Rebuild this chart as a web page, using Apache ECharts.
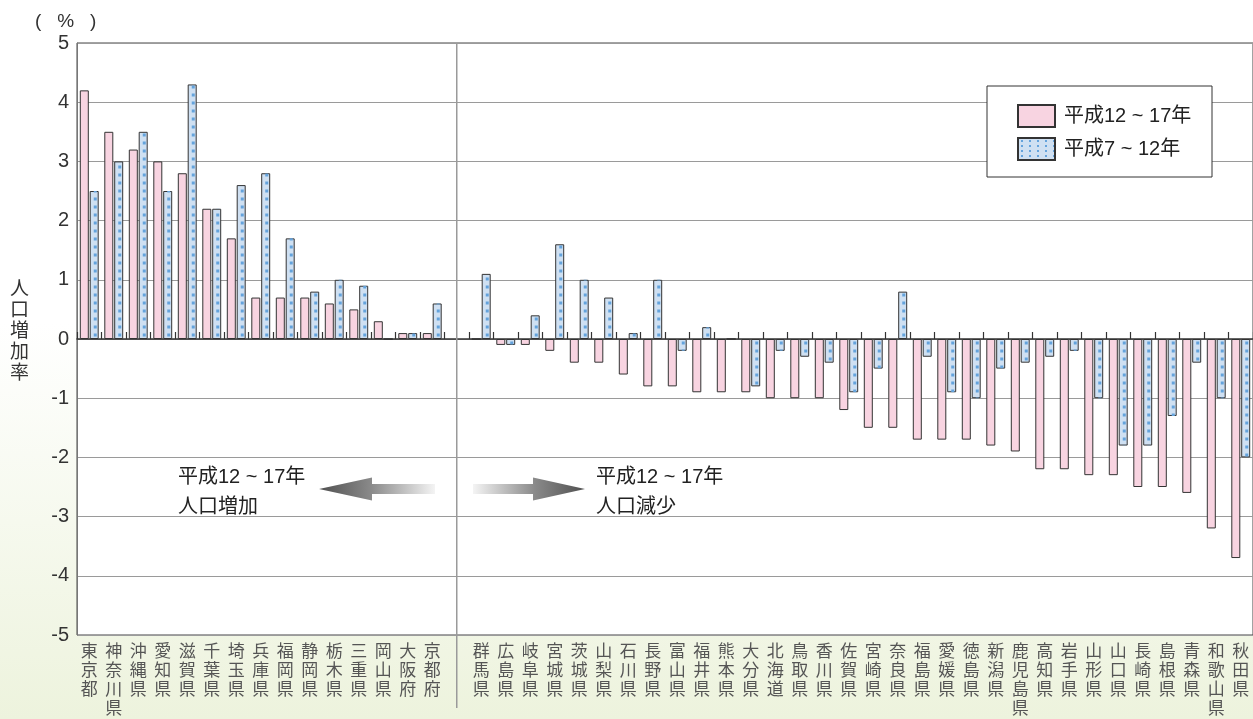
<!DOCTYPE html>
<html>
<head>
<meta charset="utf-8">
<script src="https://cdn.jsdelivr.net/npm/echarts@6/dist/echarts.min.js"></script>
<style>
  html, body { margin: 0; padding: 0; background: #fff; }
  #main { width: 1253px; height: 719px; }
</style>
</head>
<body>
<div id="main"></div>
<script>
// Prefectures: growth group, an empty slot for the divider, then the decline group
const prefectures = [
  '東京都', '神奈川県', '沖縄県', '愛知県', '滋賀県', '千葉県', '埼玉県', '兵庫県',
  '福岡県', '静岡県', '栃木県', '三重県', '岡山県', '大阪府', '京都府',
  '',
  '群馬県', '広島県', '岐阜県', '宮城県', '茨城県', '山梨県', '石川県', '長野県',
  '富山県', '福井県', '熊本県', '大分県', '北海道', '鳥取県', '香川県', '佐賀県',
  '宮崎県', '奈良県', '福島県', '愛媛県', '徳島県', '新潟県', '鹿児島県', '高知県',
  '岩手県', '山形県', '山口県', '長崎県', '島根県', '青森県', '和歌山県', '秋田県'
];

// 平成12～17年 population change (%)
const rateH12toH17 = [
  4.2, 3.5, 3.2, 3.0, 2.8, 2.2, 1.7, 0.7, 0.7, 0.7, 0.6, 0.5, 0.3, 0.1, 0.1,
  '-',
  0.0, -0.1, -0.1, -0.2, -0.4, -0.4, -0.6, -0.8, -0.8, -0.9, -0.9, -0.9, -1.0, -1.0, -1.0, -1.2,
  -1.5, -1.5, -1.7, -1.7, -1.7, -1.8, -1.9, -2.2, -2.2, -2.3, -2.3, -2.5, -2.5, -2.6, -3.2, -3.7
];

// 平成7～12年 population change (%)
const rateH7toH12 = [
  2.5, 3.0, 3.5, 2.5, 4.3, 2.2, 2.6, 2.8, 1.7, 0.8, 1.0, 0.9, 0.0, 0.1, 0.6,
  '-',
  1.1, -0.1, 0.4, 1.6, 1.0, 0.7, 0.1, 1.0, -0.2, 0.2, 0.0, -0.8, -0.2, -0.3, -0.4, -0.9,
  -0.5, 0.8, -0.3, -0.9, -1.0, -0.5, -0.4, -0.3, -0.2, -1.0, -1.8, -1.8, -1.3, -0.4, -1.0, -2.0
];

const seriesNames = ['平成12 ~ 17年', '平成7 ~ 12年'];
const yMin = -5, yMax = 5, yStep = 1;
const dividerIndex = 15;

const FONT = "'Liberation Sans', 'Noto Sans CJK JP', sans-serif";
const PINK = '#f8d4e1';
const BLUE = '#cfe0f2';
const DOT = '#64a3dc';
const EDGE = '#333333';

// dotted fill used for the legend swatch of the earlier period
function dotPattern(w, h, s) {
  const c = document.createElement('canvas');
  c.width = w; c.height = h;
  const g = c.getContext('2d');
  g.fillStyle = BLUE; g.fillRect(0, 0, w, h);
  g.fillStyle = DOT; g.fillRect(Math.round((w - s) / 2), Math.round((h - s) / 2), s, s);
  return { image: c, repeat: 'repeat' };
}

const chart = echarts.init(document.getElementById('main'), null, { renderer: 'canvas' });

const option = {
  animation: false,
  backgroundColor: new echarts.graphic.LinearGradient(0, 0, 0, 1, [
    { offset: 0, color: '#ffffff' },
    { offset: 0.45, color: '#ffffff' },
    { offset: 1, color: '#edf3dd' }
  ]),
  textStyle: { fontFamily: FONT },
  grid: {
    left: 77, right: 0, top: 43, bottom: 82,
    show: true, backgroundColor: '#ffffff', borderColor: '#444', borderWidth: 1
  },
  legend: {
    orient: 'vertical',
    left: 1017, top: 104,
    padding: 0,
    itemWidth: 37, itemHeight: 22, itemGap: 9,
    icon: 'rect',
    selectedMode: false,
    textStyle: { fontFamily: FONT, fontSize: 20, color: '#222', padding: [0, 0, 0, 4] },
    data: [
      { name: seriesNames[0] },
      { name: seriesNames[1], itemStyle: { color: dotPattern(8, 5, 2) } }
    ]
  },
  xAxis: [
    {
      type: 'category',
      data: prefectures,
      position: 'bottom',
      axisLine: { show: false, onZero: false },
      axisTick: { show: false },
      axisLabel: {
        interval: 0,
        margin: 8,
        color: '#555',
        fontSize: 17,
        lineHeight: 19,
        fontFamily: FONT,
        formatter: v => v.split('').join('\n')
      },
      splitLine: { show: false }
    },
    {
      type: 'category',
      data: prefectures,
      position: 'top',
      axisLine: { show: true, onZero: true, lineStyle: { color: '#333', width: 1.5 } },
      axisTick: { show: true, interval: 0, length: 7, lineStyle: { color: '#333', width: 1.2 } },
      axisLabel: { show: false, interval: 0 },
      splitLine: { show: false }
    }
  ],
  yAxis: {
    type: 'value',
    min: yMin, max: yMax, interval: yStep,
    axisLine: { show: true, lineStyle: { color: '#777' } },
    axisTick: { show: false },
    axisLabel: { color: '#333', fontSize: 20, margin: 8, fontFamily: FONT },
    splitLine: { lineStyle: { color: '#9a9a9a', width: 1 } }
  },
  series: [
    {
      name: seriesNames[0],
      type: 'bar',
      xAxisIndex: 0,
      data: rateH12toH17,
      barWidth: 9,
      barGap: '10%',
      itemStyle: { color: PINK, borderColor: EDGE, borderWidth: 1 },
      z: 2
    },
    {
      name: seriesNames[1],
      type: 'bar',
      xAxisIndex: 0,
      data: rateH7toH12,
      barWidth: 9,
      barGap: '10%',
      itemStyle: { color: BLUE, borderColor: EDGE, borderWidth: 1 },
      z: 2
    },
    {
      // dot column inside each bar of the earlier period
      name: 'dots',
      type: 'pictorialBar',
      xAxisIndex: 0,
      data: rateH7toH12,
      symbol: 'rect',
      symbolSize: [3, 3],
      symbolRepeat: true,
      symbolMargin: '2.6!',
      symbolClip: true,
      symbolOffset: [6, 0],
      itemStyle: { color: DOT },
      silent: true,
      z: 3
    }
  ],
  graphic: []
};

chart.setOption(option);

// Divider between the two groups plus side annotations
const divX = chart.convertToPixel({ xAxisIndex: 0 }, dividerIndex);
const yTop = chart.convertToPixel({ yAxisIndex: 0 }, yMax);

function arrowFill(darkOnLeft) {
  const stops = [
    { offset: 0, color: '#505050' },
    { offset: 0.45, color: '#8a8a8a' },
    { offset: 1, color: '#f4f4f4' }
  ];
  if (!darkOnLeft) {
    return new echarts.graphic.LinearGradient(0, 0, 1, 0,
      stops.map(s => ({ offset: 1 - s.offset, color: s.color })).reverse());
  }
  return new echarts.graphic.LinearGradient(0, 0, 1, 0, stops);
}

chart.setOption({
  graphic: [
    {
      type: 'line', z: 5, silent: true,
      shape: { x1: divX, y1: yTop, x2: divX, y2: 708 },
      style: { stroke: '#9a9a9a', lineWidth: 1.5 }
    },
    {
      type: 'text', left: 35, top: 12, silent: true,
      style: { text: '(   %   )', font: '19px ' + FONT, fill: '#333' }
    },
    {
      type: 'text', left: 10, top: 279, silent: true,
      style: { text: '人\n口\n増\n加\n率', font: '19px ' + FONT, lineHeight: 21, fill: '#333' }
    },
    {
      type: 'rect', z: 3, silent: true,
      shape: { x: 987, y: 86, width: 225, height: 91 },
      style: { fill: '#ffffff', stroke: '#333', lineWidth: 1 }
    },
    {
      type: 'polygon', z: 5, silent: true,
      shape: { points: [[319, 489], [372, 477.5], [372, 484], [435, 484], [435, 494], [372, 494], [372, 500.5]] },
      style: { fill: arrowFill(true) }
    },
    {
      type: 'polygon', z: 5, silent: true,
      shape: { points: [[473, 484], [533, 484], [533, 477.5], [585, 489], [533, 500.5], [533, 494], [473, 494]] },
      style: { fill: arrowFill(false) }
    },
    {
      type: 'text', left: 178, top: 462, z: 5, silent: true,
      style: { text: '平成12 ~ 17年\n人口増加', font: '20px ' + FONT, lineHeight: 30, fill: '#222' }
    },
    {
      type: 'text', left: 596, top: 462, z: 5, silent: true,
      style: { text: '平成12 ~ 17年\n人口減少', font: '20px ' + FONT, lineHeight: 30, fill: '#222' }
    }
  ]
});
</script>
</body>
</html>
